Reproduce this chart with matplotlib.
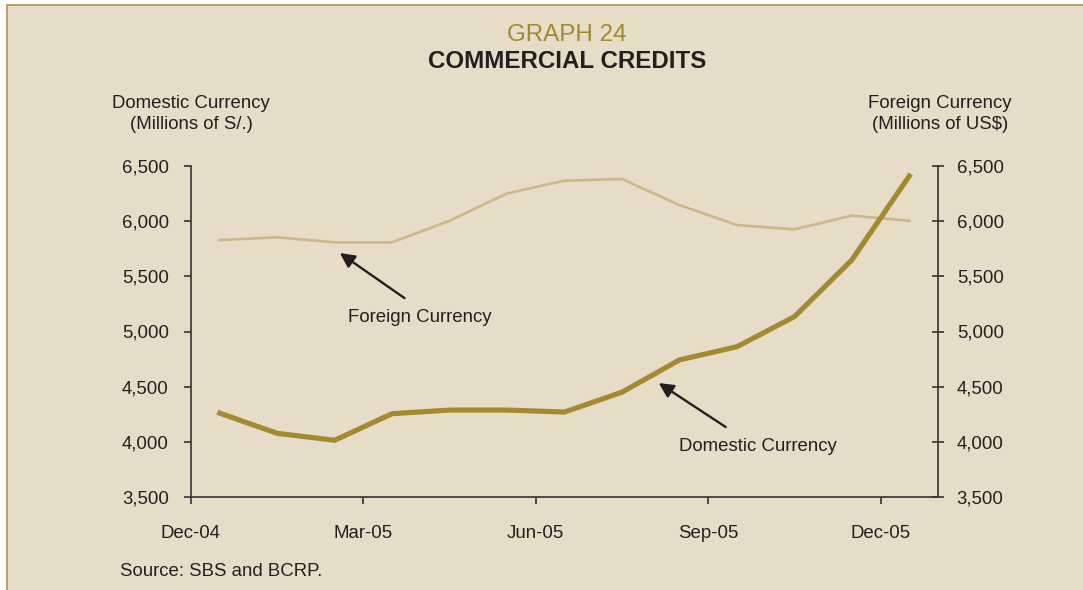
import matplotlib.pyplot as plt
import matplotlib.patches as patches
from matplotlib.ticker import FuncFormatter

plt.rcParams['font.family'] = ['Liberation Sans', 'DejaVu Sans']

# monthly stock of commercial credits, Dec-04 .. Dec-05
months = ['Dec-04', 'Jan-05', 'Feb-05', 'Mar-05', 'Apr-05', 'May-05', 'Jun-05',
          'Jul-05', 'Aug-05', 'Sep-05', 'Oct-05', 'Nov-05', 'Dec-05']
domestic = [4260, 4077, 4014, 4255, 4288, 4288, 4270, 4450, 4742, 4862, 5134, 5648, 6409]
foreign = [5829, 5854, 5808, 5808, 6004, 6252, 6367, 6382, 6146, 5965, 5926, 6050, 6004]
tick_labels = ['Dec-04', 'Mar-05', 'Jun-05', 'Sep-05', 'Dec-05']
y_ticks = [3500, 4000, 4500, 5000, 5500, 6000, 6500]

bg = '#E6DCC7'
gold = '#A4892F'
light = '#CDB987'
ink = '#231F20'
axcol = '#353233'
fs = 13.4

fig = plt.figure(figsize=(10.83, 5.90), dpi=100, facecolor='white')
# beige panel with a thin gold rule along the top and left edges
frame = patches.Rectangle((7 / 1083, -0.2), 1.2, 1.2 - 5 / 590,
                          transform=fig.transFigure, facecolor=bg,
                          edgecolor='#B39B5A', lw=1.3, zorder=-10)
fig.add_artist(frame)

ax = fig.add_axes([191 / 1083, 93 / 590, 747 / 1083, 331 / 590])
ax.set_facecolor('none')
x = list(range(len(months)))

ax.plot(x, foreign, color=light, lw=1.9, solid_joinstyle='miter', zorder=2)
ax.plot(x, domestic, color=gold, lw=3.7, solid_joinstyle='miter', zorder=3)

ax.set_xlim(-0.5, 12.5)
ax.set_ylim(3500, 6500)
ax.set_xticks([-0.5, 2.5, 5.5, 8.5, 11.5])
ax.set_xticklabels(tick_labels)
ax.set_yticks(y_ticks)
fmt = FuncFormatter(lambda v, p: f'{int(v):,}')
ax.yaxis.set_major_formatter(fmt)

for s in ['top', 'right']:
    ax.spines[s].set_visible(False)
for s in ['left', 'bottom']:
    ax.spines[s].set_color(axcol)
    ax.spines[s].set_linewidth(1.2)
ax.tick_params(axis='y', direction='out', length=5, width=1.2, color=axcol,
               labelsize=fs, labelcolor=ink, pad=11)
ax.tick_params(axis='x', direction='out', length=5, width=1.2, color=axcol,
               labelsize=fs, labelcolor=ink, pad=15)

ax2 = ax.twinx()
ax2.set_ylim(3500, 6500)
ax2.set_yticks(y_ticks)
ax2.yaxis.set_major_formatter(fmt)
for s in ['top', 'left', 'bottom']:
    ax2.spines[s].set_visible(False)
ax2.spines['right'].set_color(axcol)
ax2.spines['right'].set_linewidth(1.2)
ax2.tick_params(axis='y', direction='inout', length=9, width=1.2, color=axcol,
                labelsize=fs, labelcolor=ink, pad=9)

arrow = dict(arrowstyle='-|>', color=ink, lw=1.7, mutation_scale=22,
             shrinkA=0, shrinkB=0)
ax.annotate('', xy=(2.09, 5711), xytext=(3.215, 5303), arrowprops=arrow)
ax.text(3.476, 5131, 'Foreign Currency', fontsize=fs, color=ink,
        ha='center', va='center')
ax.annotate('', xy=(7.64, 4533), xytext=(8.806, 4134), arrowprops=arrow)
ax.text(9.36, 3962, 'Domestic Currency', fontsize=fs, color=ink,
        ha='center', va='center')

fig.text(567 / 1083, 1 - 35 / 590, 'GRAPH 24', fontsize=17.4, color=gold,
         ha='center', va='center')
fig.text(567 / 1083, 1 - 62 / 590, 'COMMERCIAL CREDITS', fontsize=17.4,
         fontweight='bold', color=ink, ha='center', va='center')
fig.text(191 / 1083, 1 - 114 / 590, 'Domestic Currency\n(Millions of S/.)',
         fontsize=fs, color=ink, ha='center', va='center', linespacing=1.3)
fig.text(940 / 1083, 1 - 114 / 590, 'Foreign Currency\n(Millions of US$)',
         fontsize=fs, color=ink, ha='center', va='center', linespacing=1.3)
fig.text(120 / 1083, 1 - 571 / 590, 'Source: SBS and BCRP.', fontsize=fs,
         color=ink, ha='left', va='center')

fig.savefig('out.png', dpi=100, facecolor=fig.get_facecolor())
